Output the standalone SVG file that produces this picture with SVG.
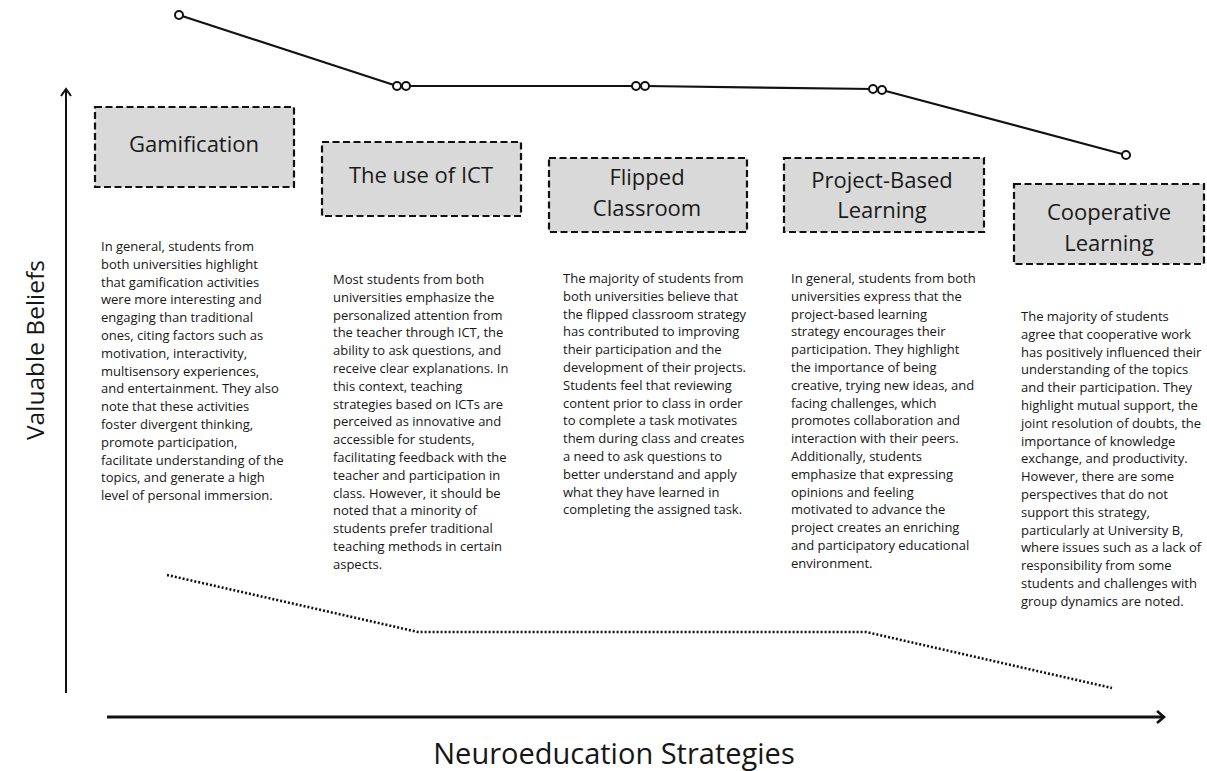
<svg xmlns="http://www.w3.org/2000/svg" width="1207" height="771" viewBox="0 0 1207 771">
  <defs>
    <style>
      .box { fill: #d9d9d9; stroke: #111; stroke-width: 2.2; stroke-dasharray: 7 3.5; }
      .label { font-family: "Open Sans", "Liberation Sans", sans-serif; font-size: 22px; fill: #1a1a1a; text-anchor: middle; }
      .para { font-family: "Open Sans", "Liberation Sans", sans-serif; font-size: 13px; fill: #161616; }
      .axis-title { font-family: "Open Sans", "Liberation Sans", sans-serif; fill: #161616; text-anchor: middle; }
      .trend { fill: none; stroke: #111; stroke-width: 2.2; stroke-linejoin: round; }
      .dot { fill: #fff; stroke: #111; stroke-width: 2; }
      .dotted { fill: none; stroke: #111; stroke-width: 2.6; stroke-dasharray: 2 2; }
      .axis { fill: none; stroke: #111; }
    </style>
  </defs>

  <rect width="1207" height="771" fill="#fff"/>

  <!-- axes -->
  <g id="axes">
    <line class="axis" x1="66" y1="693" x2="66" y2="90" stroke-width="2"/>
    <polyline class="axis" points="61,96 66,89 71,96" stroke-width="2"/>
    <line class="axis" x1="107" y1="717" x2="1163" y2="717" stroke-width="3"/>
    <polyline class="axis" points="1157,711 1164,717 1157,723" stroke-width="2.6"/>
    <text class="axis-title" font-size="24.5" transform="translate(44,350) rotate(-90)">Valuable Beliefs</text>
    <text class="axis-title" font-size="29" x="614" y="764">Neuroeducation Strategies</text>
  </g>

  <!-- connectors: upper trend line and lower dotted trend -->
  <g id="connectors">
    <polyline class="trend" points="179,15 397,86 406,86 636,86 645,86 873,89 882,90 1126,155"/>
    <circle class="dot" cx="179" cy="15" r="4"/>
    <circle class="dot" cx="397" cy="86" r="4"/>
    <circle class="dot" cx="406" cy="86" r="4"/>
    <circle class="dot" cx="636" cy="86" r="4"/>
    <circle class="dot" cx="645" cy="86" r="4"/>
    <circle class="dot" cx="873" cy="89" r="4"/>
    <circle class="dot" cx="882" cy="90" r="4"/>
    <circle class="dot" cx="1126" cy="155" r="4"/>
    <polyline class="dotted" points="167,575 418,632 866,632 1112,688"/>
  </g>

  <!-- Gamification -->
  <g id="gamification">
    <rect class="box" x="95" y="107" width="199" height="80"/>
    <text class="label" x="194" y="152">Gamification</text>
    <text class="para" x="101" y="251">
      <tspan x="101" dy="0">In general, students from</tspan>
      <tspan x="101" dy="17.8">both universities highlight</tspan>
      <tspan x="101" dy="17.8">that gamification activities</tspan>
      <tspan x="101" dy="17.8">were more interesting and</tspan>
      <tspan x="101" dy="17.8">engaging than traditional</tspan>
      <tspan x="101" dy="17.8">ones, citing factors such as</tspan>
      <tspan x="101" dy="17.8">motivation, interactivity,</tspan>
      <tspan x="101" dy="17.8">multisensory experiences,</tspan>
      <tspan x="101" dy="17.8">and entertainment. They also</tspan>
      <tspan x="101" dy="17.8">note that these activities</tspan>
      <tspan x="101" dy="17.8">foster divergent thinking,</tspan>
      <tspan x="101" dy="17.8">promote participation,</tspan>
      <tspan x="101" dy="17.8">facilitate understanding of the</tspan>
      <tspan x="101" dy="17.8">topics, and generate a high</tspan>
      <tspan x="101" dy="17.8">level of personal immersion.</tspan>
    </text>
  </g>

  <!-- The use of ICT -->
  <g id="ict">
    <rect class="box" x="322" y="142" width="199" height="74"/>
    <text class="label" x="421" y="183">The use of ICT</text>
    <text class="para" x="333" y="284">
      <tspan x="333" dy="0">Most students from both</tspan>
      <tspan x="333" dy="17.8">universities emphasize the</tspan>
      <tspan x="333" dy="17.8">personalized attention from</tspan>
      <tspan x="333" dy="17.8">the teacher through ICT, the</tspan>
      <tspan x="333" dy="17.8">ability to ask questions, and</tspan>
      <tspan x="333" dy="17.8">receive clear explanations. In</tspan>
      <tspan x="333" dy="17.8">this context, teaching</tspan>
      <tspan x="333" dy="17.8">strategies based on ICTs are</tspan>
      <tspan x="333" dy="17.8">perceived as innovative and</tspan>
      <tspan x="333" dy="17.8">accessible for students,</tspan>
      <tspan x="333" dy="17.8">facilitating feedback with the</tspan>
      <tspan x="333" dy="17.8">teacher and participation in</tspan>
      <tspan x="333" dy="17.8">class. However, it should be</tspan>
      <tspan x="333" dy="17.8">noted that a minority of</tspan>
      <tspan x="333" dy="17.8">students prefer traditional</tspan>
      <tspan x="333" dy="17.8">teaching methods in certain</tspan>
      <tspan x="333" dy="17.8">aspects.</tspan>
    </text>
  </g>

  <!-- Flipped Classroom -->
  <g id="flipped-classroom">
    <rect class="box" x="549" y="158" width="198" height="74"/>
    <text class="label" x="647" y="185">Flipped</text>
    <text class="label" x="647" y="216">Classroom</text>
    <text class="para" x="563" y="283">
      <tspan x="563" dy="0">The majority of students from</tspan>
      <tspan x="563" dy="17.8">both universities believe that</tspan>
      <tspan x="563" dy="17.8">the flipped classroom strategy</tspan>
      <tspan x="563" dy="17.8">has contributed to improving</tspan>
      <tspan x="563" dy="17.8">their participation and the</tspan>
      <tspan x="563" dy="17.8">development of their projects.</tspan>
      <tspan x="563" dy="17.8">Students feel that reviewing</tspan>
      <tspan x="563" dy="17.8">content prior to class in order</tspan>
      <tspan x="563" dy="17.8">to complete a task motivates</tspan>
      <tspan x="563" dy="17.8">them during class and creates</tspan>
      <tspan x="563" dy="17.8">a need to ask questions to</tspan>
      <tspan x="563" dy="17.8">better understand and apply</tspan>
      <tspan x="563" dy="17.8">what they have learned in</tspan>
      <tspan x="563" dy="17.8">completing the assigned task.</tspan>
    </text>
  </g>

  <!-- Project-Based Learning -->
  <g id="project-based-learning">
    <rect class="box" x="784" y="158" width="200" height="74"/>
    <text class="label" x="882" y="188">Project-Based</text>
    <text class="label" x="882" y="218">Learning</text>
    <text class="para" x="791" y="283">
      <tspan x="791" dy="0">In general, students from both</tspan>
      <tspan x="791" dy="17.8">universities express that the</tspan>
      <tspan x="791" dy="17.8">project-based learning</tspan>
      <tspan x="791" dy="17.8">strategy encourages their</tspan>
      <tspan x="791" dy="17.8">participation. They highlight</tspan>
      <tspan x="791" dy="17.8">the importance of being</tspan>
      <tspan x="791" dy="17.8">creative, trying new ideas, and</tspan>
      <tspan x="791" dy="17.8">facing challenges, which</tspan>
      <tspan x="791" dy="17.8">promotes collaboration and</tspan>
      <tspan x="791" dy="17.8">interaction with their peers.</tspan>
      <tspan x="791" dy="17.8">Additionally, students</tspan>
      <tspan x="791" dy="17.8">emphasize that expressing</tspan>
      <tspan x="791" dy="17.8">opinions and feeling</tspan>
      <tspan x="791" dy="17.8">motivated to advance the</tspan>
      <tspan x="791" dy="17.8">project creates an enriching</tspan>
      <tspan x="791" dy="17.8">and participatory educational</tspan>
      <tspan x="791" dy="17.8">environment.</tspan>
    </text>
  </g>

  <!-- Cooperative Learning -->
  <g id="cooperative-learning">
    <rect class="box" x="1014" y="184" width="190" height="80"/>
    <text class="label" x="1109" y="220">Cooperative</text>
    <text class="label" x="1109" y="251">Learning</text>
    <text class="para" x="1021" y="321">
      <tspan x="1021" dy="0">The majority of students</tspan>
      <tspan x="1021" dy="17.8">agree that cooperative work</tspan>
      <tspan x="1021" dy="17.8">has positively influenced their</tspan>
      <tspan x="1021" dy="17.8">understanding of the topics</tspan>
      <tspan x="1021" dy="17.8">and their participation. They</tspan>
      <tspan x="1021" dy="17.8">highlight mutual support, the</tspan>
      <tspan x="1021" dy="17.8">joint resolution of doubts, the</tspan>
      <tspan x="1021" dy="17.8">importance of knowledge</tspan>
      <tspan x="1021" dy="17.8">exchange, and productivity.</tspan>
      <tspan x="1021" dy="17.8">However, there are some</tspan>
      <tspan x="1021" dy="17.8">perspectives that do not</tspan>
      <tspan x="1021" dy="17.8">support this strategy,</tspan>
      <tspan x="1021" dy="17.8">particularly at University B,</tspan>
      <tspan x="1021" dy="17.8">where issues such as a lack of</tspan>
      <tspan x="1021" dy="17.8">responsibility from some</tspan>
      <tspan x="1021" dy="17.8">students and challenges with</tspan>
      <tspan x="1021" dy="17.8">group dynamics are noted.</tspan>
    </text>
  </g>
</svg>
